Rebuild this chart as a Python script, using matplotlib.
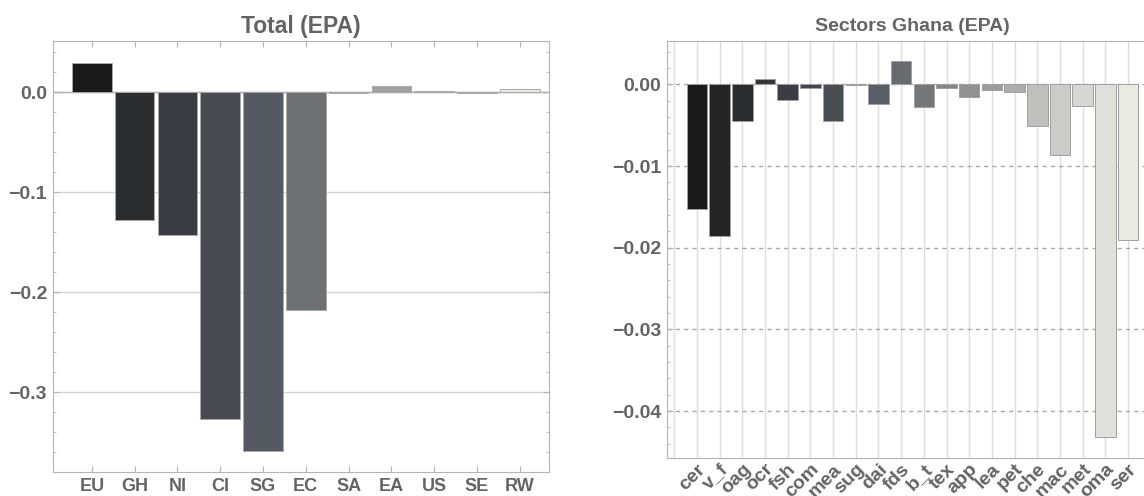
import matplotlib.pyplot as plt
from matplotlib.colors import LinearSegmentedColormap
from matplotlib.ticker import MultipleLocator

plt.rcParams['font.family'] = ['Liberation Sans', 'DejaVu Sans']
plt.rcParams['font.weight'] = 'bold'

# Data
regions = ['EU', 'GH', 'NI', 'CI', 'SG', 'EC', 'SA', 'EA', 'US', 'SE', 'RW']
total_epa = [0.0297, -0.128, -0.143, -0.327, -0.359, -0.218, -0.0005, 0.0063, 0.001, -0.0008, 0.0037]

sectors = ['cer', 'v_f', 'oag', 'ocr', 'fsh', 'com', 'mea', 'sug', 'dai', 'fds',
           'b_t', 'tex', 'app', 'lea', 'pet', 'che', 'mac', 'met', 'oma', 'ser']
ghana_epa = [-0.0152, -0.0186, -0.0045, 0.0007, -0.0019, -0.0004, -0.0045, -0.00005, -0.0024, 0.0028,
             -0.0028, -0.0005, -0.0015, -0.0007, -0.0010, -0.0051, -0.0087, -0.0027, -0.0432, -0.0191]

# gray tones colour scheme
gray_tones = LinearSegmentedColormap.from_list('graytones', [
    (0.0, '#1a1a1a'), (0.1, '#2a2d30'), (0.2, '#393c43'), (0.3, '#474c53'),
    (0.4, '#545a62'), (0.5, '#6b7174'), (0.6, '#888c8b'), (0.7, '#9da09f'),
    (0.8, '#c2c3be'), (0.9, '#d6d7d1'), (1.0, '#e9eae2')])

text_color = '#646464'
frame_color = '#b4b4b4'

fig = plt.figure(figsize=(11.44, 4.96), dpi=100)

# ---- left panel: Total (EPA) ----
ax1 = fig.add_axes([52.6 / 1144, 23.7 / 496, 496.4 / 1144, 431 / 496])
x1 = list(range(1, len(regions) + 1))
colors1 = [gray_tones(i / (len(regions) - 1)) for i in range(len(regions))]
ax1.bar(x1, total_epa, width=0.927, color=colors1, edgecolor='#a8a8a8', linewidth=0.7, zorder=3)
ax1.set_xlim(0.083, 11.685)
ax1.set_ylim(-0.38, 0.051)
ax1.set_xticks(x1)
ax1.set_xticklabels(regions)
ax1.set_yticks([0.0, -0.1, -0.2, -0.3])
ax1.set_yticklabels(['0.0', '\u22120.1', '\u22120.2', '\u22120.3'])
ax1.yaxis.set_minor_locator(MultipleLocator(0.02))
ax1.grid(axis='y', color='#d4d4d4', linewidth=1.0, zorder=0)
ax1.axhline(0, color='#b0b0b0', linewidth=1.0, zorder=2)
ax1.tick_params(axis='both', which='both', direction='in', colors=frame_color,
                labelcolor=text_color, top=True, right=True)
ax1.tick_params(axis='x', length=4, pad=4, labelsize=13)
ax1.tick_params(axis='y', which='major', length=4, pad=4, labelsize=14)
ax1.tick_params(axis='y', which='minor', length=2)
for s in ax1.spines.values():
    s.set_color(frame_color)
ax1.set_title('Total (EPA)', fontsize=16.5, fontweight='bold', color=text_color, pad=6)

# ---- right panel: Sectors Ghana (EPA) ----
ax2 = fig.add_axes([667 / 1144, 38 / 496, 491 / 1144, 417.3 / 496])
x2 = list(range(1, len(sectors) + 1))
colors2 = [gray_tones(i / (len(sectors) - 1)) for i in range(len(sectors))]
ax2.bar(x2, ghana_epa, width=0.9, color=colors2, edgecolor='#a0a0a0', linewidth=0.7, zorder=3)
ax2.set_xlim(-0.32, 21.32)
ax2.set_ylim(-0.04574, 0.00534)
ax2.set_xticks(x2)
ax2.set_xticklabels(sectors, rotation=45, ha='right', va='top', rotation_mode='anchor')
ax2.set_yticks([0.0, -0.01, -0.02, -0.03, -0.04])
ax2.set_yticklabels(['0.00', '\u22120.01', '\u22120.02', '\u22120.03', '\u22120.04'])
ax2.yaxis.set_minor_locator(MultipleLocator(0.002))
ax2.grid(axis='y', which='major', color='#a8a8a8', linewidth=1.0, linestyle=(0, (3, 3)), zorder=0)
ax2.grid(axis='x', which='major', color='#dcdcdc', linewidth=1.0, zorder=0)
for xv in [0, len(sectors) + 1]:
    ax2.axvline(xv, color='#dcdcdc', linewidth=1.0, zorder=0)
ax2.tick_params(axis='x', which='both', length=0, colors=frame_color, labelcolor=text_color,
                labelsize=14, pad=2)
ax2.tick_params(axis='y', which='both', direction='in', colors=frame_color,
                labelcolor=text_color, labelsize=14)
ax2.tick_params(axis='y', which='major', length=4, pad=4)
ax2.tick_params(axis='y', which='minor', length=2)
for s in ax2.spines.values():
    s.set_color(frame_color)
ax2.set_title('Sectors Ghana (EPA)', fontsize=14, fontweight='bold', color=text_color, pad=7)

fig.savefig('out.png', dpi=100)
